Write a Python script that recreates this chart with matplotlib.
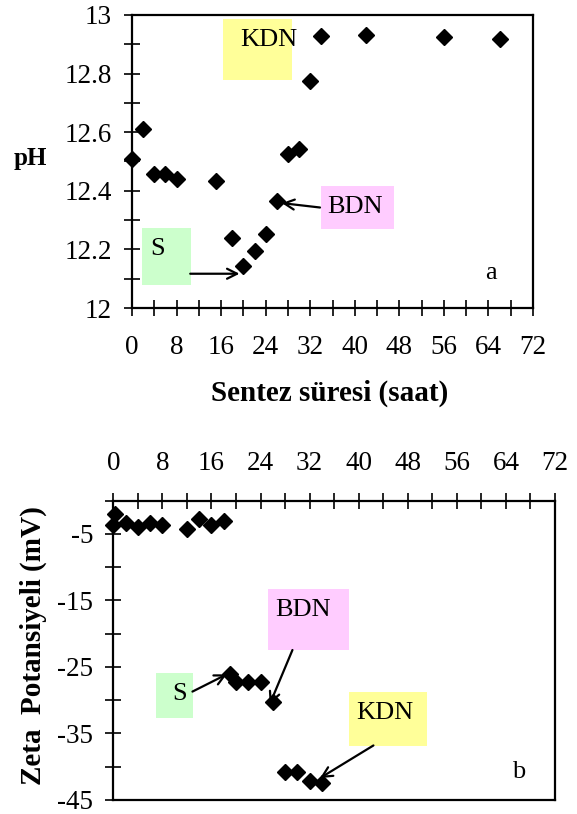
import matplotlib
matplotlib.use("Agg")
import matplotlib.pyplot as plt
from matplotlib.patches import Rectangle
from matplotlib.ticker import MultipleLocator, FuncFormatter

plt.rcParams['font.family'] = ['Liberation Serif', 'DejaVu Serif']

# pH vs synthesis time
time_ph = [0, 2, 4, 6, 8, 15, 18, 20, 22, 24, 26, 28, 30, 32, 34, 42, 56, 66]
ph = [12.51, 12.61, 12.457, 12.458, 12.44, 12.434, 12.238, 12.142, 12.196,
      12.252, 12.366, 12.524, 12.544, 12.774, 12.927, 12.932, 12.926, 12.918]

# zeta potential vs synthesis time
time_zeta = [0.3, 0, 2, 4, 6, 8, 12, 14, 16, 18, 19, 20, 22, 24, 26, 28, 30, 32, 34]
zeta = [-2.0, -3.6, -3.3, -3.9, -3.3, -3.6, -4.3, -2.7, -3.6, -3.0,
        -26.1, -27.3, -27.2, -27.2, -30.2, -40.8, -40.8, -42.1, -42.5]

FS = 19.5
ANN = 19
fmt = FuncFormatter(lambda v, p: "%g" % v)


def style_axes(ax):
    for s in ax.spines.values():
        s.set_linewidth(1.6)
    ax.tick_params(which='both', direction='inout', width=1.2, labelsize=FS,
                   length=11)
    ax.tick_params(axis='y', pad=9)
    ax.xaxis.set_major_locator(MultipleLocator(8))
    ax.xaxis.set_minor_locator(MultipleLocator(4))
    ax.set_xlim(0, 72)


def label_box(ax, x0, x1, y0, y1, color):
    ax.add_patch(Rectangle((x0, y0), x1 - x0, y1 - y0, facecolor=color,
                           edgecolor='none', clip_on=False, zorder=1))


def arrow(ax, start, end):
    ax.annotate("", xy=end, xytext=start,
                arrowprops=dict(arrowstyle='->', lw=1.6, color='black',
                                mutation_scale=18, shrinkA=0, shrinkB=0),
                zorder=4)


fig = plt.figure(figsize=(5.77, 8.14), dpi=100)

# ---- a) pH ----
ax1 = fig.add_axes([0.2288, 0.6216, 0.695, 0.36])
ax1.plot(time_ph, ph, 'D', color='black', ms=8.5, zorder=5, clip_on=False)
style_axes(ax1)
ax1.set_ylim(12, 13)
ax1.yaxis.set_major_locator(MultipleLocator(0.2))
ax1.yaxis.set_minor_locator(MultipleLocator(0.1))
ax1.yaxis.set_major_formatter(fmt)
ax1.tick_params(axis='x', pad=14)

label_box(ax1, 16.25, 28.7, 12.779, 12.986, '#FFFF99')
ax1.text(24.55, 12.915, "KDN", fontsize=ANN, ha='center', va='center', zorder=3)
label_box(ax1, 33.9, 47.1, 12.269, 12.416, '#FFCCFF')
ax1.text(40.1, 12.345, "BDN", fontsize=ANN, ha='center', va='center', zorder=3)
arrow(ax1, (33.75, 12.343), (26.9, 12.358))
label_box(ax1, 1.85, 10.57, 12.077, 12.272, '#CCFFCC')
ax1.text(4.54, 12.2, "S", fontsize=ANN, ha='center', va='center', zorder=3)
arrow(ax1, (10.45, 12.117), (19.3, 12.117))
ax1.text(64.5, 12.121, "a", fontsize=ANN, ha='center', va='center')

fig.text(30 / 577, 1 - 158 / 814, "pH", fontsize=18, fontweight='bold',
         ha='center', va='center')
fig.text(330 / 577, 1 - 393 / 814, "Sentez süresi (saat)", fontsize=21,
         fontweight='bold', ha='center', va='center')

# ---- b) zeta potential ----
ax2 = fig.add_axes([0.1964, 0.0172, 0.7655, 0.3677])
ax2.plot(time_zeta, zeta, 'D', color='black', ms=8.5, zorder=5, clip_on=False)
style_axes(ax2)
ax2.set_ylim(-45, 0)
ax2.set_yticks([-45, -35, -25, -15, -5])
ax2.yaxis.set_minor_locator(MultipleLocator(5))
ax2.yaxis.set_major_formatter(fmt)
ax2.xaxis.tick_top()
ax2.tick_params(axis='x', pad=12)

label_box(ax2, 6.96, 12.93, -32.62, -25.96, '#CCFFCC')
ax2.text(10.87, -29.06, "S", fontsize=ANN, ha='center', va='center', zorder=3)
arrow(ax2, (12.9, -28.7), (18.5, -26.1))
label_box(ax2, 25.27, 38.37, -22.45, -13.28, '#FFCCFF')
ax2.text(31.0, -16.5, "BDN", fontsize=ANN, ha='center', va='center', zorder=3)
arrow(ax2, (29.2, -22.45), (25.5, -30.6))
label_box(ax2, 38.48, 51.09, -36.83, -28.76, '#FFFF99')
ax2.text(44.2, -31.9, "KDN", fontsize=ANN, ha='center', va='center', zorder=3)
arrow(ax2, (42.4, -36.8), (33.7, -41.7))
ax2.text(66.0, -40.74, "b", fontsize=ANN, ha='center', va='center')

fig.text(33 / 577, 1 - 646 / 814, "Zeta  Potansiyeli (mV)", fontsize=21,
         fontweight='bold', rotation=90, ha='center', va='center')

fig.savefig("out.png", dpi=100)
